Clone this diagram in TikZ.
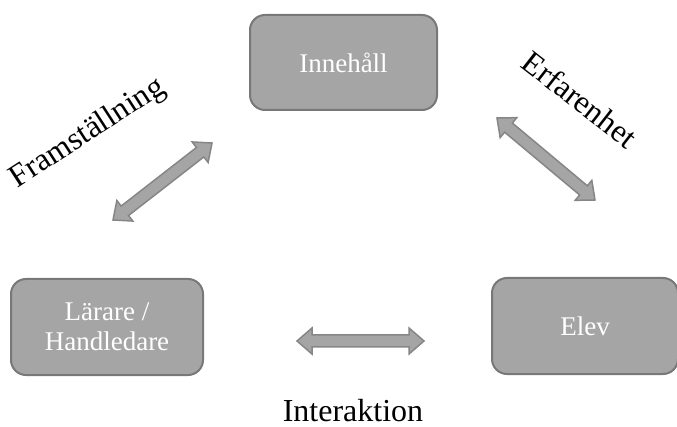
\documentclass[tikz,border=0pt]{standalone}
\usepackage{fontspec}
\setmainfont{Liberation Serif}
\usetikzlibrary{calc}
\definecolor{boxfill}{HTML}{A5A5A5}
\definecolor{boxline}{HTML}{787878}
\definecolor{arrline}{HTML}{868686}
\newcommand\ahk{15pt}
\newcommand\ahh{13pt}
\newcommand\ahs{6pt}
\newcommand\blkarrow[3]{%
  \path ($(#1)!\ahk!(#2)$) coordinate (#3b1) ($(#2)!\ahk!(#1)$) coordinate (#3b2);
  \draw[blk] (#1) -- ($(#3b1)!\ahh!90:(#2)$) -- ($(#3b1)!\ahs!90:(#2)$)
    -- ($(#3b2)!\ahs!-90:(#1)$) -- ($(#3b2)!\ahh!-90:(#1)$) -- (#2)
    -- ($(#3b2)!\ahh!90:(#1)$) -- ($(#3b2)!\ahs!90:(#1)$)
    -- ($(#3b1)!\ahs!-90:(#2)$) -- ($(#3b1)!\ahh!-90:(#2)$) -- cycle;}
\begin{document}
\begin{tikzpicture}[x=1pt,y=-1pt,
  box/.style={draw=boxline, line width=2pt, fill=boxfill, rounded corners=15pt,
    text=white, font=\fontsize{27}{30}\selectfont, align=center, inner sep=0pt},
  lbl/.style={font=\fontsize{32}{36}\selectfont, text=black, inner sep=0pt},
  blk/.style={draw=arrline, line width=1.5pt, fill=boxfill, line join=miter}]
\useasboundingbox (0,0) rectangle (677,427);
\node[box, minimum width=187pt, minimum height=95pt] (inn) at (343.5,62.5) {Innehåll};
\node[box, minimum width=192pt, minimum height=96pt] (lar) at (107,327) {Lärare /\\Handledare};
\node[box, minimum width=186pt, minimum height=96pt] (elev) at (585,326) {Elev};
\coordinate (l1) at (113,220); \coordinate (l2) at (212,143);
\coordinate (r1) at (497,118); \coordinate (r2) at (595,200);
\coordinate (h1) at (297,341); \coordinate (h2) at (424,341);
\blkarrow{l1}{l2}{la}
\blkarrow{r1}{r2}{ra}
\blkarrow{h1}{h2}{ha}
\node[lbl, rotate=33, anchor=base] (fram) at (92,140) {Framställning};
\node[lbl, rotate=-38, anchor=base] (erf) at (573,108) {Erfarenhet};
\node[lbl, anchor=base] (inter) at (353,421) {Interaktion};
\end{tikzpicture}
\end{document}
